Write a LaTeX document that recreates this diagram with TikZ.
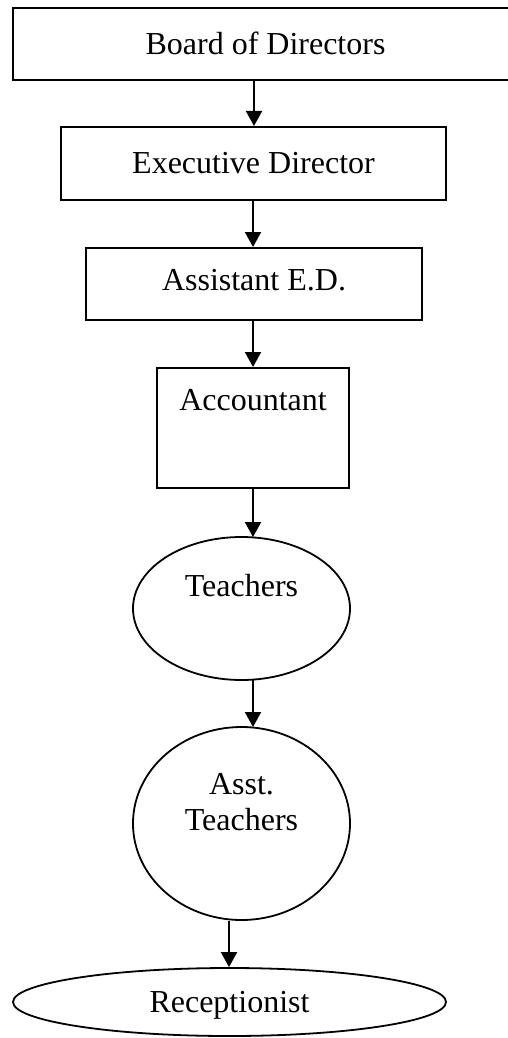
\documentclass[tikz,border=0pt]{standalone}
\usepackage{fontspec}
\setmainfont{Liberation Serif}
\usetikzlibrary{shapes.geometric,arrows.meta}
\begin{document}
\begin{tikzpicture}[x=0.5pt,y=-0.5pt,
  every node/.style={font=\fontsize{16pt}{18pt}\selectfont},
  rectbox/.style={draw,line width=1pt,rectangle,inner sep=0pt},
  ellbox/.style={draw,line width=0.9pt,ellipse,inner sep=0pt},
  arr/.style={line width=1pt,-{Triangle[length=7.5pt,width=8pt]}},
  txt/.style={inner sep=0pt,align=center}]
\useasboundingbox (0,0) rectangle (508,1038);
\node[rectangle,inner sep=0pt,minimum width=262.5pt,minimum height=35.5pt,
      label={[txt,xshift=-5pt]center:Board of Directors}] (bod) at (275.5,43.75) {};
\draw[line width=1pt] (bod.north east) -- (bod.north west) -- (bod.south west) -- (bod.south east);
\node[rectbox,minimum width=192.5pt,minimum height=36.5pt,
      label={[txt]center:Executive Director}] (ed) at (253.5,163.5) {};
\node[rectbox,minimum width=168pt,minimum height=36pt,
      label={[txt,yshift=2pt]center:Assistant E.D.}] (aed) at (254,284) {};
\node[rectbox,minimum width=96pt,minimum height=60pt,
      label={[txt,yshift=14pt]center:Accountant}] (acc) at (253,428) {};
\node[ellbox,minimum width=108.5pt,minimum height=71.5pt,
      label={[txt,yshift=11.5pt]center:Teachers}] (tch) at (241.5,608.5) {};
\node[ellbox,minimum width=108.5pt,minimum height=96.5pt,
      label={[txt,yshift=10.5pt]center:Asst.\\Teachers}] (ast) at (241.5,823.5) {};
\node[ellbox,minimum width=216.5pt,minimum height=34pt,
      label={[txt,yshift=-1.5pt]center:Receptionist}] (rec) at (229.5,1002) {};
\draw[arr] (bod.south -| 254,0) -- (ed.north -| 254,0);
\draw[arr] (ed.south -| 253,0) -- (aed.north -| 253,0);
\draw[arr] (aed.south -| 253,0) -- (acc.north -| 253,0);
\draw[arr] (acc.south -| 253,0) -- (253,537);
\coordinate (tchb) at (253,680);
\draw[arr] (tchb) -- (253,727);
\draw[arr] (ast.south -| 229,0) -- (rec.north -| 229,0);
\end{tikzpicture}
\end{document}
